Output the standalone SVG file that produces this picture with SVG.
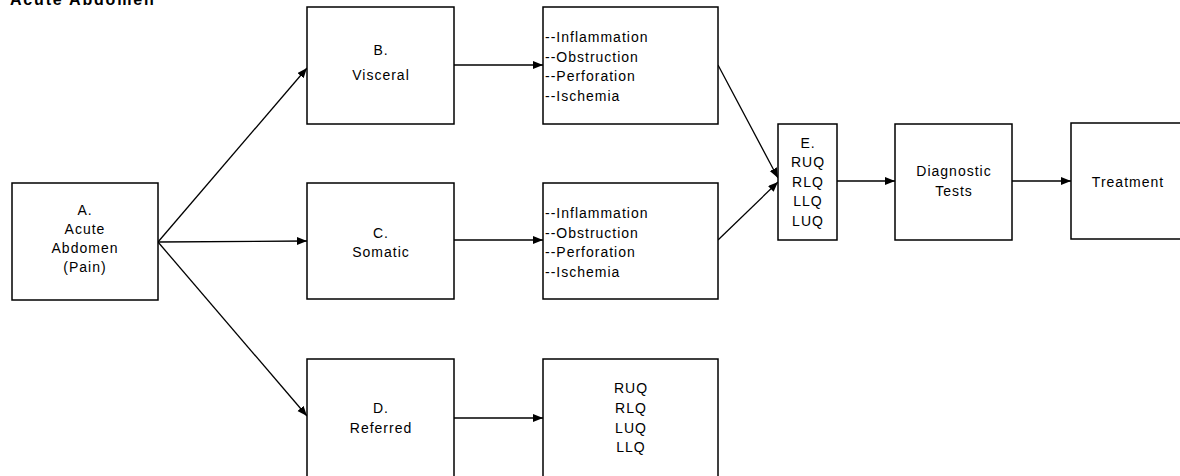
<svg xmlns="http://www.w3.org/2000/svg" width="1180" height="476" viewBox="0 0 1180 476">
  <style>
    .box { fill: #ffffff; stroke: #000000; stroke-width: 1.5; }
    .t { font-family: "Liberation Sans", Arial, sans-serif; font-size: 14px; letter-spacing: 1px; fill: #000000; }
    .c { text-anchor: middle; }
    .title { font-family: "Liberation Sans", Arial, sans-serif; font-size: 16px; font-weight: bold; letter-spacing: 1.8px; fill: #000000; }
    .edge { stroke: #000000; stroke-width: 1.3; fill: none; marker-end: url(#arrow); }
  </style>
  <defs>
    <marker id="arrow" markerUnits="userSpaceOnUse" markerWidth="11" markerHeight="9" refX="10" refY="4" orient="auto">
      <path d="M0,0 L10,4 L0,8 z" fill="#000000"/>
    </marker>
  </defs>
  <rect width="1180" height="476" fill="#ffffff"/>
  <text class="title" x="10" y="5">Acute Abdomen</text>

  <g id="connectors">
    <line class="edge" x1="158" y1="242" x2="307" y2="68"/>
    <line class="edge" x1="158" y1="242" x2="307" y2="241"/>
    <line class="edge" x1="158" y1="242" x2="307" y2="416"/>
    <line class="edge" x1="454" y1="65" x2="543" y2="65"/>
    <line class="edge" x1="454" y1="240" x2="543" y2="240"/>
    <line class="edge" x1="454" y1="418" x2="543" y2="418"/>
    <line class="edge" x1="718" y1="65" x2="778" y2="178"/>
    <line class="edge" x1="718" y1="240" x2="778" y2="182"/>
    <line class="edge" x1="837" y1="181" x2="895" y2="181"/>
    <line class="edge" x1="1012" y1="181" x2="1071" y2="181"/>
  </g>

  <g id="nodeA">
    <rect class="box" x="12" y="183" width="146" height="117"/>
    <text class="t c" x="85" y="215">A.</text>
    <text class="t c" x="85" y="234">Acute</text>
    <text class="t c" x="85" y="253">Abdomen</text>
    <text class="t c" x="85" y="272">(Pain)</text>
  </g>
  <g id="nodeB">
    <rect class="box" x="307" y="7" width="147" height="117"/>
    <text class="t c" x="381" y="55">B.</text>
    <text class="t c" x="381" y="80">Visceral</text>
  </g>
  <g id="nodeB-list">
    <rect class="box" x="543" y="7" width="175" height="117"/>
    <text class="t" x="545" y="42">--Inflammation</text>
    <text class="t" x="545" y="61.5">--Obstruction</text>
    <text class="t" x="545" y="81">--Perforation</text>
    <text class="t" x="545" y="100.5">--Ischemia</text>
  </g>
  <g id="nodeC">
    <rect class="box" x="307" y="183" width="147" height="116"/>
    <text class="t c" x="381" y="238">C.</text>
    <text class="t c" x="381" y="257">Somatic</text>
  </g>
  <g id="nodeC-list">
    <rect class="box" x="543" y="183" width="175" height="116"/>
    <text class="t" x="545" y="218">--Inflammation</text>
    <text class="t" x="545" y="237.5">--Obstruction</text>
    <text class="t" x="545" y="257">--Perforation</text>
    <text class="t" x="545" y="276.5">--Ischemia</text>
  </g>
  <g id="nodeD">
    <rect class="box" x="307" y="359" width="147" height="130"/>
    <text class="t c" x="381" y="413">D.</text>
    <text class="t c" x="381" y="433">Referred</text>
  </g>
  <g id="nodeD-list">
    <rect class="box" x="543" y="359" width="175" height="130"/>
    <text class="t c" x="631" y="393">RUQ</text>
    <text class="t c" x="631" y="413">RLQ</text>
    <text class="t c" x="631" y="433">LUQ</text>
    <text class="t c" x="631" y="452">LLQ</text>
  </g>
  <g id="nodeE">
    <rect class="box" x="778" y="124" width="59" height="116"/>
    <text class="t c" x="808" y="148">E.</text>
    <text class="t c" x="808" y="167">RUQ</text>
    <text class="t c" x="808" y="186.5">RLQ</text>
    <text class="t c" x="808" y="206">LLQ</text>
    <text class="t c" x="808" y="225.5">LUQ</text>
  </g>
  <g id="nodeDiagnostic">
    <rect class="box" x="895" y="124" width="117" height="116"/>
    <text class="t c" x="954" y="176">Diagnostic</text>
    <text class="t c" x="954" y="196">Tests</text>
  </g>
  <g id="nodeTreatment">
    <rect class="box" x="1071" y="123" width="115" height="116"/>
    <text class="t c" x="1128" y="187">Treatment</text>
  </g>
</svg>
